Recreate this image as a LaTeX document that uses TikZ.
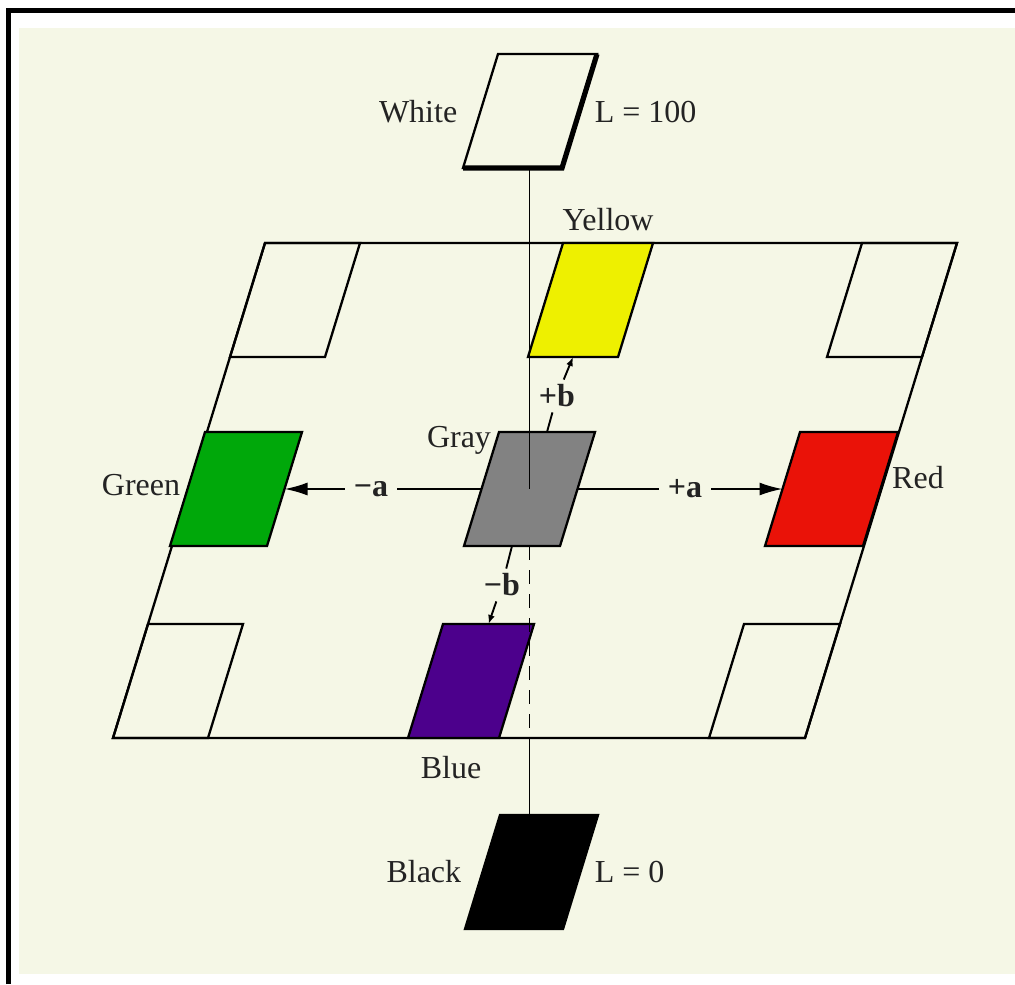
\documentclass[tikz,border=0pt]{standalone}
\usepackage{fontspec}
\setmainfont{Liberation Serif}
\usetikzlibrary{arrows.meta}

\definecolor{paper}{RGB}{245,247,230}
\definecolor{ink}{RGB}{35,35,35}
\definecolor{cyellow}{RGB}{238,240,0}
\definecolor{cgray}{RGB}{130,130,130}
\definecolor{cgreen}{RGB}{0,168,10}
\definecolor{cred}{RGB}{234,18,8}
\definecolor{cblue}{RGB}{76,0,140}

% one slanted colour patch: name, top left corner x, y, width, fill
\newcommand{\colpatch}[5]{%
  \filldraw[fill=#5] (#2,#3) coordinate (#1-nw) -- ++(#4,0) coordinate (#1-ne)
    -- ++(-35,114) coordinate (#1-se) -- ++(-#4,0) coordinate (#1-sw) -- cycle;
  \coordinate (#1-n) at ({#2+#4/2},#3);
  \coordinate (#1-s) at ({#2-35+#4/2},{#3+114});
  \coordinate (#1-c) at ({#2-17.5+#4/2},{#3+57});
  \coordinate (#1-w) at ({#2-17.5},{#3+57});
  \coordinate (#1-e) at ({#2+#4-17.5},{#3+57});
}

\begin{document}
\begin{tikzpicture}[x=0.5pt,y=-0.5pt,line width=1.15pt,line join=miter,
  >={Latex[length=11.5pt,width=6.5pt]},
  lbl/.style={text=ink,font=\fontsize{16}{19}\selectfont},
  axlbl/.style={text=ink,font=\fontsize{16}{19}\selectfont\bfseries,inner sep=4pt},
  tip/.style={-{Latex[length=4.5pt,width=3.5pt]}}]
\useasboundingbox (0,0) rectangle (1015,984);
\fill[white] (0,0) rectangle (1015,984);
\fill[paper] (19,28) rectangle (1015,974);
\draw[line width=2.6pt] (8.5,984) -- (8.5,10.5) -- (1015,10.5);

% the a-b plane and its empty corners
\draw (265,243) coordinate (plane-nw) -- (957,243) coordinate (plane-ne)
  -- (805,738) coordinate (plane-se) -- (113,738) coordinate (plane-sw) -- cycle;
\colpatch{cornA}{265}{243}{95}{none}
\colpatch{cornB}{862}{243}{95}{none}
\colpatch{cornC}{148}{624}{95}{none}
\colpatch{cornD}{744}{624}{96}{none}

% colour patches
\colpatch{white}{498}{54}{99}{paper}
\draw[line width=2.6pt] (white-ne) -- (white-se) -- (white-sw);
\colpatch{yellow}{563}{243}{90}{cyellow}
\colpatch{gray}{499}{432}{96}{cgray}
\colpatch{green}{205}{432}{97}{cgreen}
\colpatch{red}{800}{432}{98}{cred}
\colpatch{blue}{443}{624}{91}{cblue}
\colpatch{black}{500}{815}{98}{black}

% L axis
\draw[line width=0.95pt] (gray-c |- white-sw) -- (gray-c);
\draw[line width=0.95pt,dash pattern=on 7pt off 5pt] (gray-c |- gray-sw) -- (gray-c |- plane-sw);
\draw[line width=0.95pt] (gray-c |- plane-sw) -- (gray-c |- black-nw);

% a and b axes
\node[axlbl] (ma) at (371,489) {−a};
\node[axlbl] (pa) at (685,489) {+a};
\node[axlbl,inner sep=2pt] (pb) at (557,396) {+b};
\node[axlbl,inner sep=2pt] (mb) at (502,585) {−b};
\draw[line width=0.95pt] (gray-w) -- (gray-w -| ma.east);
\draw[line width=0.95pt,->] (ma.west) -- (green-e);
\draw[line width=0.95pt] (gray-e) -- (gray-e -| pa.west);
\draw[line width=0.95pt,->] (pa.east) -- (red-w);
\draw[line width=0.95pt] (gray-n) -- (pb);
\draw[line width=0.95pt,tip] (pb) -- (yellow-s);
\draw[line width=0.95pt] (gray-s) -- (mb);
\draw[line width=0.95pt,tip] (mb) -- (blue-n);

% names
\node[lbl,anchor=east] (twhite) at (465,112) {White};
\node[lbl,anchor=west] (tlup) at (587,112) {L = 100};
\node[lbl] (tyellow) at (608,220) {Yellow};
\node[lbl] (tgray) at (459,440) {Gray};
\node[lbl] (tgreen) at (141,485) {Green};
\node[lbl] (tred) at (918,478) {Red};
\node[lbl] (tblue) at (451,768) {Blue};
\node[lbl,anchor=east] (tblack) at (469,872) {Black};
\node[lbl,anchor=west] (tldown) at (587,872) {L = 0};
\end{tikzpicture}
\end{document}
